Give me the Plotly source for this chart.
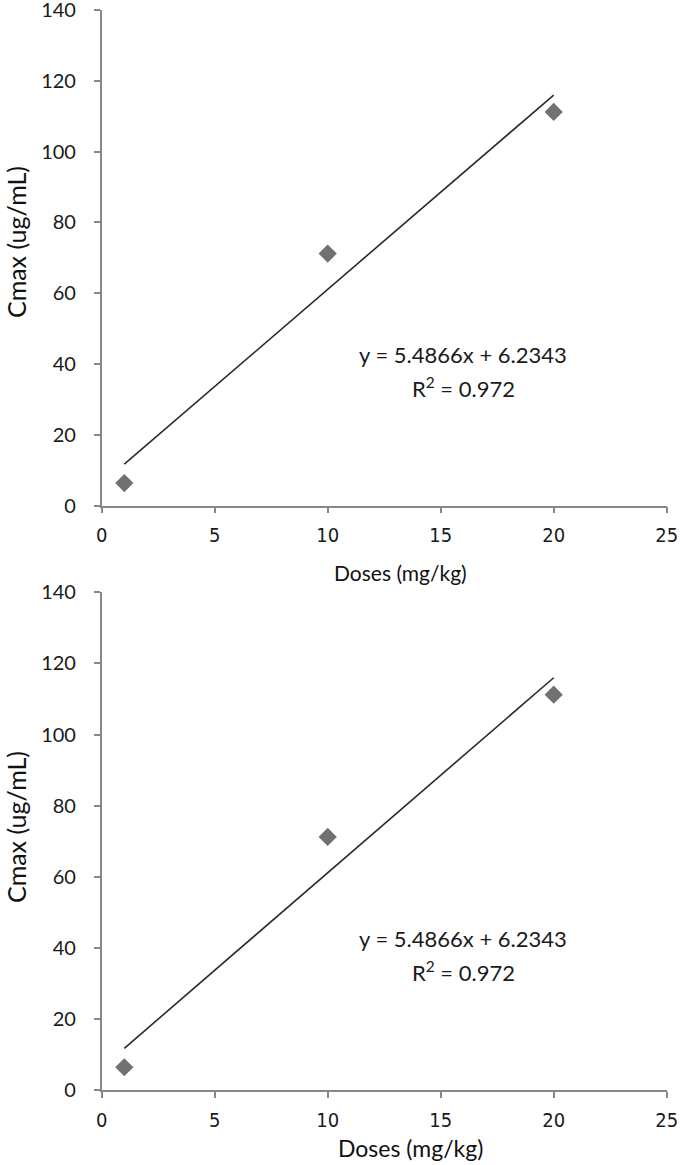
import plotly.graph_objects as go

doses = [1, 10, 20]
cmax = [6.4, 71.2, 111.2]
slope = 5.4866
intercept = 6.2343
eq_text = "y = 5.4866x + 6.2343"
r2_text = "R<sup>2</sup> = 0.972"
x_ticks = [0, 5, 10, 15, 20, 25]
y_ticks = [0, 20, 40, 60, 80, 100, 120, 140]

W, H = 680, 1165
fit_x = [min(doses), max(doses)]
fit_y = [slope * v + intercept for v in fit_x]

fig = go.Figure()
axis_gray = "#878787"
tick_font_y = dict(family="Lato, Open Sans, sans-serif", size=20, color="#1a1a1a")
tick_font_x = dict(family="DejaVu Sans Condensed, Liberation Sans Narrow, sans-serif", size=20, color="#1a1a1a")

panels = [
    dict(ydom=[1 - 505.7 / H, 1 - 10 / H], title_y=242, title_x_y=572, title_x_x=400, title_x_size=21),
    dict(ydom=[1 - 1090 / H, 1 - 592.3 / H], title_y=827, title_x_y=1148, title_x_x=410, title_x_size=23),
]
xdom = [101.7 / W, 666.7 / W]

for i, p in enumerate(panels):
    sfx = "" if i == 0 else "2"
    xr = "x" + sfx
    yr = "y" + sfx
    fig.add_trace(go.Scatter(x=fit_x, y=fit_y, mode="lines", xaxis=xr, yaxis=yr,
                             line=dict(color="#2a2a2a", width=1.6), showlegend=False))
    fig.add_trace(go.Scatter(x=doses, y=cmax, mode="markers", xaxis=xr, yaxis=yr,
                             marker=dict(symbol="diamond", size=14, color="#717171", line=dict(width=0)),
                             showlegend=False))
    fig.update_layout(**{
        "xaxis" + sfx: dict(domain=xdom, range=[0, 25], tickvals=x_ticks, anchor=yr, automargin=False,
                            showgrid=False, zeroline=False, showline=True, linecolor=axis_gray, linewidth=1.5,
                            ticks="outside", ticklen=6, tickcolor=axis_gray, tickwidth=1.5,
                            tickfont=tick_font_x, ticklabelstandoff=5, ticklabeloverflow="allow"),
        "yaxis" + sfx: dict(domain=p["ydom"], range=[0, 140], tickvals=y_ticks, anchor=xr, automargin=False,
                            showgrid=False, zeroline=False, showline=True, linecolor=axis_gray, linewidth=1.5,
                            ticks="outside", ticklen=6, tickcolor=axis_gray, tickwidth=1.5,
                            tickfont=tick_font_y, ticklabelstandoff=14, ticklabeloverflow="allow"),
    })
    fig.add_annotation(x=16, y=42.6, xref=xr, yref=yr, text=eq_text, showarrow=False,
                       font=dict(family="Lato, Open Sans, sans-serif", size=22, color="#1a1a1a"))
    fig.add_annotation(x=16, y=33.3, xref=xr, yref=yr, text=r2_text, showarrow=False,
                       font=dict(family="Lato, Open Sans, sans-serif", size=22, color="#1a1a1a"))
    fig.add_annotation(x=16 / W, y=1 - p["title_y"] / H, xref="paper", yref="paper", text="Cmax (ug/mL)",
                       textangle=-90, showarrow=False, xanchor="center", yanchor="middle",
                       font=dict(family="Lato, Open Sans, sans-serif", size=25, color="#111111"))
    fig.add_annotation(x=p["title_x_x"] / W, y=1 - p["title_x_y"] / H, xref="paper", yref="paper",
                       text="Doses (mg/kg)", showarrow=False, xanchor="center", yanchor="middle",
                       font=dict(family="Lato, Open Sans, sans-serif", size=p["title_x_size"], color="#111111"))

fig.update_layout(width=W, height=H, margin=dict(l=0, r=0, t=0, b=0),
                  plot_bgcolor="white", paper_bgcolor="white")
fig.write_html("out.html", config={"displayModeBar": False},
               post_script="document.body.style.margin='0';document.body.style.padding='0';"
                           "document.body.style.overflow='hidden';")
